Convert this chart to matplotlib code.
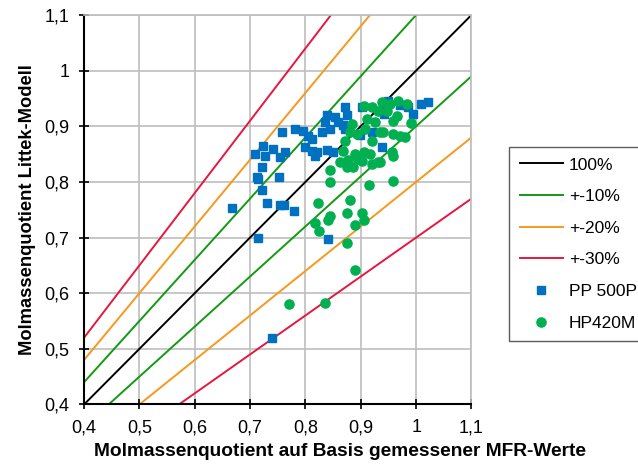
import numpy as np
import matplotlib.pyplot as plt
from matplotlib.ticker import FuncFormatter

plt.rcParams['font.family'] = ['Liberation Sans', 'DejaVu Sans']

# PP 500P: Molmassenquotient (MFR) vs. Littek-Modell
pp_x = [0.668, 0.740, 0.715, 0.715, 0.753, 0.722, 0.731, 0.754, 0.762, 0.780,
        0.841, 0.758, 0.782, 0.796, 0.805, 0.812, 0.800, 0.812, 0.818, 0.821,
        0.830, 0.836, 0.839, 0.839, 0.709, 0.724, 0.727, 0.742, 0.763, 0.754,
        0.722, 0.713, 0.854, 0.872, 0.876, 0.859, 0.845, 0.868, 0.872, 0.899,
        0.921, 0.939, 0.850, 0.941, 0.950, 1.008, 1.022, 0.995, 0.971, 0.986,
        0.903, 0.942]
pp_y = [0.754, 0.520, 0.700, 0.806, 0.808, 0.786, 0.763, 0.759, 0.758, 0.747,
        0.698, 0.889, 0.895, 0.891, 0.882, 0.877, 0.862, 0.855, 0.846, 0.853,
        0.889, 0.907, 0.921, 0.858, 0.851, 0.864, 0.846, 0.859, 0.853, 0.844,
        0.826, 0.808, 0.916, 0.934, 0.921, 0.908, 0.895, 0.903, 0.895, 0.884,
        0.890, 0.863, 0.853, 0.940, 0.945, 0.940, 0.943, 0.922, 0.938, 0.934,
        0.934, 0.922]

# HP420M
hp_x = [0.905, 0.921, 0.939, 0.932, 0.912, 0.926, 0.885, 0.908, 0.881, 0.894,
        0.921, 0.872, 0.935, 0.868, 0.890, 0.905, 0.917, 0.895, 0.863, 0.877,
        0.876, 0.886, 0.903, 0.921, 0.932, 0.845, 0.845, 0.914, 0.881, 0.968,
        0.984, 0.953, 0.948, 0.966, 0.959, 0.990, 0.941, 0.959, 0.971, 0.980,
        0.957, 0.959, 0.935, 0.959, 0.823, 0.845, 0.841, 0.876, 0.903, 0.905,
        0.890, 0.818, 0.825, 0.876, 0.890, 0.771, 0.836]
hp_y = [0.936, 0.934, 0.943, 0.927, 0.913, 0.907, 0.904, 0.895, 0.889, 0.886,
        0.873, 0.873, 0.889, 0.855, 0.850, 0.853, 0.850, 0.841, 0.836, 0.840,
        0.827, 0.827, 0.838, 0.833, 0.836, 0.822, 0.800, 0.795, 0.768, 0.945,
        0.940, 0.940, 0.927, 0.918, 0.909, 0.905, 0.889, 0.886, 0.882, 0.880,
        0.853, 0.846, 0.836, 0.801, 0.763, 0.738, 0.732, 0.745, 0.745, 0.732,
        0.723, 0.727, 0.711, 0.691, 0.642, 0.581, 0.583]

# Abweichungsgrenzen relativ zur Winkelhalbierenden
bands = [(1.0, '100%', '#000000'),
         (0.1, '+-10%', '#129A12'),
         (0.2, '+-20%', '#F7981D'),
         (0.3, '+-30%', '#E5173F')]

fig = plt.figure(figsize=(6.38, 4.68), dpi=100)
ax = fig.add_axes([0.1317, 0.1357, 0.6073, 0.8323])

xs = np.array([0.3, 1.2])
for k, (dev, label, color) in enumerate(bands):
    if k == 0:
        ax.plot(xs, xs, color=color, lw=1.4, label=label, zorder=2)
    else:
        ax.plot(xs, xs * (1 + dev), color=color, lw=1.4, label=label, zorder=2)
        ax.plot(xs, xs * (1 - dev), color=color, lw=1.4, zorder=2)

ax.plot(pp_x, pp_y, ls='none', marker='s', ms=6.4, color='#0070C0',
        mec='#0070C0', label='PP 500P', zorder=3)
ax.plot(hp_x, hp_y, ls='none', marker='o', ms=6.6, color='#00B050',
        mec='#00B050', label='HP420M', zorder=4)

ax.set_xlim(0.4, 1.1)
ax.set_ylim(0.4, 1.1)
ticks = np.round(np.arange(0.4, 1.101, 0.1), 1)
ax.set_xticks(ticks)
ax.set_yticks(ticks)
fmt = FuncFormatter(lambda v, p: f'{v:g}'.replace('.', ','))
ax.xaxis.set_major_formatter(fmt)
ax.yaxis.set_major_formatter(fmt)
ax.tick_params(direction='inout', length=7, width=1.2, labelsize=13, pad=7)

ax.grid(True, color='#BEBEBE', lw=1.2, zorder=0)
ax.set_axisbelow(True)
for side in ['top', 'right']:
    ax.spines[side].set_color('#BEBEBE')
    ax.spines[side].set_linewidth(1.2)
for side in ['left', 'bottom']:
    ax.spines[side].set_linewidth(1.5)

ax.set_xlabel('Molmassenquotient auf Basis gemessener MFR-Werte',
              fontsize=13.8, fontweight='bold')
ax.xaxis.set_label_coords(0.66, -0.098)
ax.set_ylabel('Molmassenquotient Littek-Modell',
              fontsize=13.2, fontweight='bold', labelpad=6)

leg = fig.legend(loc='upper left', bbox_to_anchor=(0.798, 0.686),
                 borderaxespad=0, fontsize=12.5, frameon=True, fancybox=False,
                 edgecolor='#333333', handlelength=2.5, labelspacing=0.95,
                 borderpad=0.6, handletextpad=0.35)
leg.get_frame().set_linewidth(1.0)

fig.savefig('out.png', dpi=100)
